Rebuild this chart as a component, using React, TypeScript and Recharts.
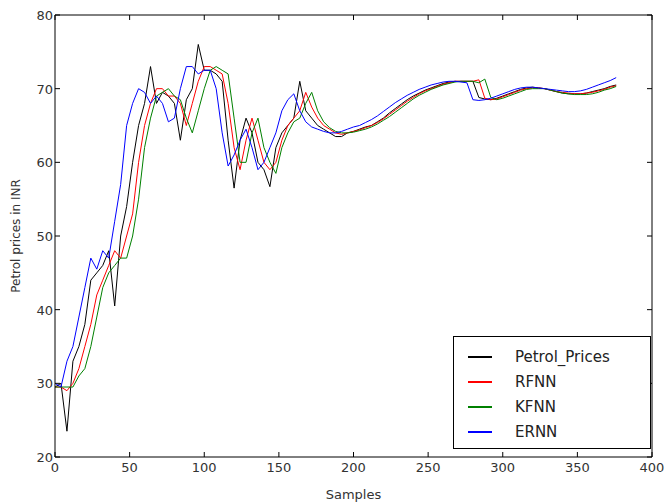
import React from "react";
import { LineChart, Line, XAxis, YAxis } from "recharts";

const samples = [
  0, 4, 8, 12, 16, 20, 24, 28, 32, 36, 40, 44, 48, 52, 56, 60, 64, 68, 72, 76,
  80, 84, 88, 92, 96, 100, 104, 108, 112, 116, 120, 124, 128, 132, 136, 140,
  144, 148, 152, 156, 160, 164, 168, 172, 176, 180, 184, 188, 192, 196, 200,
  204, 208, 212, 216, 220, 224, 228, 232, 236, 240, 244, 248, 252, 256, 260,
  264, 268, 272, 276, 280, 284, 288, 292, 296, 300, 304, 308, 312, 316, 320,
  324, 328, 332, 336, 340, 344, 348, 352, 356, 360, 364, 368, 372, 376,
];

const petrolPrices = [
  29.5, 30, 23.5, 33, 35, 38, 44, 45, 46, 48, 40.5, 50, 54, 60, 65, 68, 73, 68,
  69.5, 69, 68, 63, 68.5, 70, 76, 72.5, 72.5, 72, 71, 63, 56.5, 63, 66, 64, 60,
  59, 56.7, 62, 64, 65, 66, 71, 67, 66, 65, 64.5, 64, 63.5, 63.5, 64, 64.2,
  64.5, 64.8, 65, 65.5, 66, 66.7, 67.3, 67.9, 68.5, 69, 69.4, 69.8, 70.1, 70.4,
  70.7, 70.9, 71, 71, 71, 71, 68.8, 68.6, 68.5, 68.7, 69, 69.3, 69.6, 69.9,
  70.1, 70.2, 70.1, 70, 69.8, 69.6, 69.4, 69.3, 69.3, 69.3, 69.4, 69.6, 69.8,
  70, 70.3, 70.5,
];

const rfnn = [
  29.5, 29.5, 29, 30, 32, 35, 38, 42, 44, 46, 48, 47, 50, 53, 60, 65, 68, 70,
  70, 69, 69, 68, 65, 68, 71, 73, 73, 72.5, 72, 68, 62, 59, 63, 66, 63, 60, 59,
  60, 63, 65, 66, 67, 69.5, 67.5, 66, 65, 64.5, 64, 63.8, 64, 64.2, 64.4, 64.7,
  65, 65.4, 65.9, 66.5, 67.1, 67.7, 68.3, 68.8, 69.3, 69.7, 70, 70.3, 70.6,
  70.8, 71, 71, 71, 71, 71.2, 68.7, 68.5, 68.6, 68.9, 69.2, 69.5, 69.8, 70,
  70.1, 70.1, 70, 69.8, 69.6, 69.5, 69.4, 69.3, 69.3, 69.4, 69.5, 69.7, 69.9,
  70.2, 70.4,
];

const kfnn = [
  29.5, 29.5, 29.5, 29.5, 31, 32, 35, 39, 43, 45, 46, 47, 47, 50, 55, 62, 66,
  69, 69.5, 70, 69, 68.5, 66, 64, 67, 70, 72.5, 73, 72.5, 72, 66, 60, 60, 64,
  66, 62, 60, 58.5, 62, 64, 65.5, 66, 68, 69.5, 67, 65.5, 64.7, 64.2, 64, 64,
  64.1, 64.3, 64.5, 64.8, 65.2, 65.7, 66.2, 66.8, 67.4, 68, 68.6, 69.1, 69.5,
  69.9, 70.2, 70.5, 70.7, 70.9, 71, 71, 71, 70.8, 71.3, 68.8, 68.5, 68.7, 69,
  69.3, 69.6, 69.9, 70, 70, 70, 69.8, 69.6, 69.4, 69.3, 69.2, 69.2, 69.2, 69.3,
  69.5, 69.8, 70, 70.3,
];

const ernn = [
  30, 29.5, 33, 35, 39, 43, 47, 45.5, 48, 47, 52, 57, 65, 68, 70, 69.5, 68, 69,
  68, 65.5, 66, 70, 73, 73, 72, 72.5, 72.5, 70, 64, 59.5, 61, 63, 64.5, 62, 59,
  60, 62, 64, 67, 68.5, 69.3, 67, 65.5, 64.8, 64.5, 64.2, 64, 64, 64.2, 64.5,
  64.8, 65, 65.4, 65.8, 66.3, 66.9, 67.5, 68.1, 68.6, 69.1, 69.5, 69.9, 70.2,
  70.5, 70.7, 70.9, 71, 71, 70.9, 70.8, 68.5, 68.4, 68.5, 68.7, 69, 69.3, 69.6,
  69.9, 70.1, 70.2, 70.2, 70.1, 70, 69.9, 69.8, 69.7, 69.6, 69.6, 69.7, 69.9,
  70.2, 70.5, 70.8, 71.1, 71.5,
];

const xTicks = [0, 50, 100, 150, 200, 250, 300, 350, 400];
const yTicks = [20, 30, 40, 50, 60, 70, 80];

const series = [
  { key: "Petrol_Prices", color: "#000000" },
  { key: "RFNN", color: "#ff0000" },
  { key: "KFNN", color: "#008000" },
  { key: "ERNN", color: "#0000ff" },
];

const data = samples.map((s, i) => ({
  sample: s,
  Petrol_Prices: petrolPrices[i],
  RFNN: rfnn[i],
  KFNN: kfnn[i],
  ERNN: ernn[i],
}));

const font = "'DejaVu Sans', sans-serif";
const tickColor = "#333";

const BottomTick = (props: any) => {
  const { x, y, payload } = props;
  return (
    <g>
      <line x1={x} y1={y} x2={x} y2={y - 5} stroke="#000" />
      <text x={x} y={y + 15} textAnchor="middle" fontSize={13} fill={tickColor} fontFamily={font}>
        {payload.value}
      </text>
    </g>
  );
};

const TopTick = (props: any) => {
  const { x, y } = props;
  return <line x1={x} y1={y} x2={x} y2={y + 5} stroke="#000" />;
};

const LeftTick = (props: any) => {
  const { x, y, payload } = props;
  return (
    <g>
      <line x1={x} y1={y} x2={x + 5} y2={y} stroke="#000" />
      <text x={x - 2} y={y + 5} textAnchor="end" fontSize={13} fill={tickColor} fontFamily={font}>
        {payload.value}
      </text>
    </g>
  );
};

const RightTick = (props: any) => {
  const { x, y } = props;
  return <line x1={x} y1={y} x2={x - 5} y2={y} stroke="#000" />;
};

// legend drawn as an overlay box, like matplotlib's lower-right legend
const LegendBox = () => (
  <div
    style={{
      position: "absolute",
      left: 453,
      top: 336,
      width: 198,
      height: 113,
      border: "1px solid #000",
      background: "#fff",
      boxSizing: "border-box",
      padding: "7px 0 0 14px",
      fontFamily: font,
      fontSize: 15,
      color: "#222",
    }}
  >
    {series.map((s) => (
      <div key={s.key} style={{ display: "flex", alignItems: "center", height: 25 }}>
        <span style={{ display: "inline-block", width: 24, height: 2, background: s.color, marginRight: 23 }} />
        <span>{s.key}</span>
      </div>
    ))}
  </div>
);

export default function App() {
  return (
    <div style={{ position: "absolute", left: 0, top: 0, width: 667, height: 504, background: "#fff" }}>
      <LineChart
        width={667}
        height={504}
        data={data}
        margin={{ top: 14, right: 14, left: 0, bottom: 0 }}
      >
        <XAxis
          dataKey="sample"
          type="number"
          domain={[0, 400]}
          ticks={xTicks}
          tick={<BottomTick />}
          tickLine={false}
          tickSize={0}
          tickMargin={0}
          height={47}
          stroke="#000"
          label={{ value: "Samples", position: "insideBottom", offset: 5, fontSize: 13, fill: tickColor, fontFamily: font }}
        />
        <XAxis
          xAxisId="top"
          orientation="top"
          dataKey="sample"
          type="number"
          domain={[0, 400]}
          ticks={xTicks}
          tick={<TopTick />}
          tickLine={false}
          tickSize={0}
          tickMargin={0}
          height={1}
          stroke="#000"
        />
        <YAxis
          type="number"
          domain={[20, 80]}
          ticks={yTicks}
          tick={<LeftTick />}
          tickLine={false}
          tickSize={0}
          tickMargin={0}
          width={55}
          stroke="#000"
          label={{ value: "Petrol prices in INR", angle: -90, position: "insideLeft", offset: 16, fontSize: 12, fill: tickColor, fontFamily: font, style: { textAnchor: "middle" } }}
        />
        <YAxis
          yAxisId="right"
          orientation="right"
          type="number"
          domain={[20, 80]}
          ticks={yTicks}
          tick={<RightTick />}
          tickLine={false}
          tickSize={0}
          tickMargin={0}
          width={1}
          stroke="#000"
        />
        {/* invisible copy bound to the mirror axes so the frame gets drawn */}
        <Line
          dataKey="Petrol_Prices"
          xAxisId="top"
          yAxisId="right"
          stroke="none"
          dot={false}
          legendType="none"
          isAnimationActive={false}
        />
        {series.map((s) => (
          <Line
            key={s.key}
            dataKey={s.key}
            stroke={s.color}
            strokeWidth={1}
            dot={false}
            type="linear"
            isAnimationActive={false}
          />
        ))}
      </LineChart>
      <LegendBox />
    </div>
  );
}
